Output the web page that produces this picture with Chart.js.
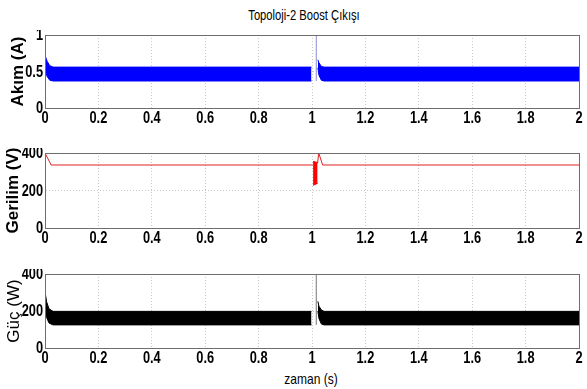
<!DOCTYPE html>
<html>
<head>
<meta charset="utf-8">
<script src="https://cdn.jsdelivr.net/npm/chart.js@4.4.1/dist/chart.umd.min.js"></script>
<style>
  body { margin: 0; background: #fff; width: 587px; height: 389px; position: relative; overflow: hidden; }
  canvas { position: absolute; left: 0; }
  .yazi { position: absolute; font-family: "Liberation Sans", Arial, sans-serif; color: #000; white-space: nowrap; transform: translateX(-50%) scaleX(0.8); }
</style>
</head>
<body>
<div class="yazi" style="left:304px; top:7px; font-size:14px;">Topoloji-2 Boost Çıkışı</div>
<canvas id="akim" width="587" height="100" style="top:30px"></canvas>
<canvas id="gerilim" width="587" height="102" style="top:148px"></canvas>
<canvas id="guc" width="587" height="101" style="top:269px"></canvas>
<div class="yazi" style="left:311px; top:370px; font-size:15px;">zaman (s)</div>

<script>
  // zaman ekseni
  const zamanEtiket = [0, 0.2, 0.4, 0.6, 0.8, 1, 1.2, 1.4, 1.6, 1.8, 2];

  // Akim (A) - dalgalanma bandi, ust / alt zarf
  const akimZamanA = [0, 0.008, 0.018, 0.03, 0.998];
  const akimUstA   = [0.72, 0.64, 0.58, 0.56, 0.56];
  const akimAltA   = [0.52, 0.43, 0.38, 0.37, 0.37];
  const akimZamanB = [1.022, 1.026, 1.035, 1.045, 2];
  const akimUstB   = [0.66, 0.62, 0.57, 0.56, 0.56];
  const akimAltB   = [0.55, 0.45, 0.38, 0.37, 0.37];
  const akimSivriZaman = [1.016, 1.016];
  const akimSivri      = [0.37, 1.05];
  const akimEtiket = [0, 0.5, 1];

  // Gerilim (V)
  const gerilimZamanA = [0, 0.023, 1.003];
  const gerilimA      = [400, 336, 336];
  const gerilimBandZaman = [1.004, 1.021];
  const gerilimBandUst   = [355, 350];
  const gerilimBandAlt   = [228, 238];
  const gerilimZamanB = [1.021, 1.025, 1.04, 2];
  const gerilimB      = [345, 400, 336, 336];
  const gerilimEtiket = [0, 200, 400];

  // Guc (W)
  const gucZamanA = [0, 0.006, 0.015, 0.03, 0.998];
  const gucUstA   = [305, 250, 212, 198, 198];
  const gucAltA   = [210, 165, 135, 125, 125];
  const gucZamanB = [1.022, 1.026, 1.035, 1.045, 2];
  const gucUstB   = [252, 226, 206, 198, 198];
  const gucAltB   = [200, 160, 130, 125, 125];
  const gucSivriZaman = [1.016, 1.016];
  const gucSivri      = [125, 420];
  const gucEtiket = [0, 200, 400];

  const yaziTipi = "'Liberation Sans', Arial, sans-serif";

  function noktalar(xs, ys) {
    return xs.map((x, i) => ({ x: x, y: ys[i] }));
  }

  function cizgi(xs, ys, renk, doldur) {
    return {
      data: noktalar(xs, ys),
      borderColor: renk,
      backgroundColor: renk,
      borderWidth: 1,
      pointRadius: 0,
      fill: doldur || false,
      tension: 0
    };
  }

  // MATLAB tarzi kutu
  const kutu = {
    id: 'kutu',
    afterDraw(chart) {
      const a = chart.chartArea, ctx = chart.ctx;
      ctx.save();
      ctx.strokeStyle = '#6e6e6e';
      ctx.lineWidth = 1;
      ctx.strokeRect(Math.round(a.left) + 0.5, Math.round(a.top) + 0.5,
        Math.round(a.right - a.left), Math.round(a.bottom - a.top));
      ctx.restore();
    }
  };

  // dar (narrow) eksen yazilari - yatayda sikistirilmis
  const darEtiket = {
    id: 'darEtiket',
    afterDraw(chart) {
      const ctx = chart.ctx, a = chart.chartArea;
      const xs = chart.scales.x, ys = chart.scales.y;
      ctx.save();
      ctx.fillStyle = '#000';
      ctx.font = 'bold 16px ' + yaziTipi;
      ctx.textAlign = 'center';
      ctx.textBaseline = 'top';
      xs.ticks.forEach(t => {
        ctx.save();
        ctx.translate(xs.getPixelForValue(t.value), a.bottom + 3);
        ctx.scale(0.8, 1);
        ctx.fillText(String(t.value), 0, 0);
        ctx.restore();
      });
      ctx.textAlign = 'right';
      ctx.textBaseline = 'middle';
      ys.ticks.forEach(t => {
        ctx.save();
        ctx.translate(a.left - 2, ys.getPixelForValue(t.value) + 1);
        ctx.scale(0.8, 1);
        ctx.fillText(String(t.value), 0, 0);
        ctx.restore();
      });
      ctx.restore();
    }
  };

  function ayar(yMin, yMax, yTicks, baslik, kalin, baslikPad) {
    return {
      responsive: false,
      animation: false,
      events: [],
      layout: { padding: { top: 5, right: 8, left: 0, bottom: 0 } },
      plugins: { legend: { display: false }, tooltip: { enabled: false } },
      scales: {
        x: {
          type: 'linear',
          min: 0,
          max: 2,
          afterBuildTicks: s => { s.ticks = zamanEtiket.map(v => ({ value: v })); },
          afterFit: s => { s.height = 22; },
          ticks: { display: false },
          grid: { color: '#c8c8c8', drawTicks: false },
          border: { color: '#555', dash: [1, 2] }
        },
        y: {
          min: yMin,
          max: yMax,
          afterBuildTicks: s => { s.ticks = yTicks.map(v => ({ value: v })); },
          afterFit: s => { s.width = 45; },
          ticks: { display: false },
          grid: { color: '#c8c8c8', drawTicks: false },
          border: { color: '#555', dash: [1, 2] },
          title: {
            display: true,
            text: baslik,
            color: '#000',
            padding: { top: baslikPad, bottom: 0 },
            font: { family: yaziTipi, size: 17, weight: kalin ? 'bold' : 'normal' }
          }
        }
      }
    };
  }

  new Chart(document.getElementById('akim'), {
    type: 'line',
    data: {
      datasets: [
        cizgi(akimZamanA, akimUstA, '#0000ff', '+1'),
        cizgi(akimZamanA, akimAltA, '#0000ff'),
        cizgi(akimZamanB, akimUstB, '#0000ff', '+1'),
        cizgi(akimZamanB, akimAltB, '#0000ff'),
        cizgi(akimSivriZaman, akimSivri, '#8c8cd8')
      ]
    },
    options: ayar(0, 1, akimEtiket, 'Akım (A)', true, 8),
    plugins: [kutu, darEtiket]
  });

  new Chart(document.getElementById('gerilim'), {
    type: 'line',
    data: {
      datasets: [
        cizgi(gerilimZamanA, gerilimA, '#e02020'),
        cizgi(gerilimBandZaman, gerilimBandUst, '#ff0000', '+1'),
        cizgi(gerilimBandZaman, gerilimBandAlt, '#ff0000'),
        cizgi(gerilimZamanB, gerilimB, '#e02020')
      ]
    },
    options: ayar(0, 400, gerilimEtiket, 'Gerilim (V)', true, 3),
    plugins: [kutu, darEtiket]
  });

  new Chart(document.getElementById('guc'), {
    type: 'line',
    data: {
      datasets: [
        cizgi(gucZamanA, gucUstA, '#000', '+1'),
        cizgi(gucZamanA, gucAltA, '#000'),
        cizgi(gucZamanB, gucUstB, '#000', '+1'),
        cizgi(gucZamanB, gucAltB, '#000'),
        cizgi(gucSivriZaman, gucSivri, '#777')
      ]
    },
    options: ayar(0, 400, gucEtiket, 'Güç (W)', false, 4),
    plugins: [kutu, darEtiket]
  });
</script>
</body>
</html>
